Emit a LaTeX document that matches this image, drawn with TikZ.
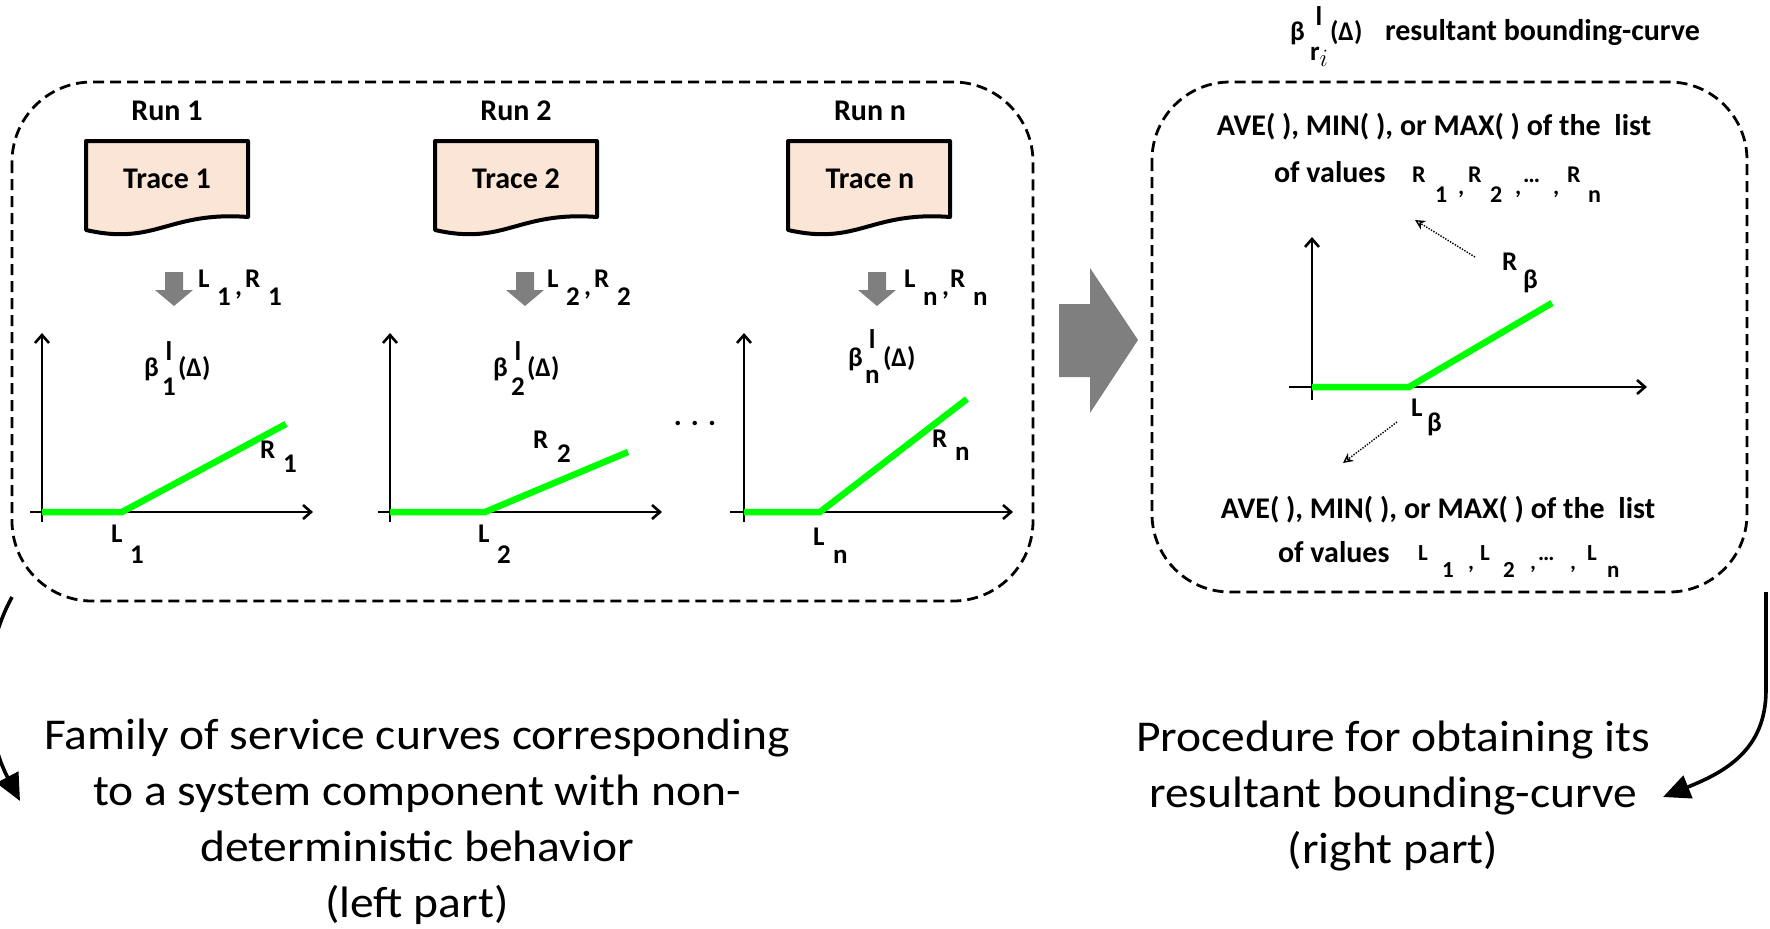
\documentclass[tikz,border=0pt]{standalone}
\usepackage{fontspec}
\setmainfont{Carlito}
\newfontfamily\capfont{Carlito}[FakeStretch=1.08]
\usetikzlibrary{arrows.meta}
\definecolor{tracefill}{HTML}{FBE5D6}
\definecolor{blockgray}{HTML}{7F7F7F}
\definecolor{curvegreen}{HTML}{00FF00}
% a piece of fixed width, a lowered piece of fixed width, a stacked super/subscript pair
\newcommand\pcx[2]{\makebox[#1pt][l]{#2}}
\newcommand\lwx[3]{\raisebox{-#2pt}{\makebox[#1pt][l]{#3}}}
\newcommand\stkx[4]{\ooalign{\hfil\raisebox{#1pt}{#3}\hfil\cr\hfil\raisebox{-#2pt}{#4}\hfil\cr}}
\begin{document}
\begin{tikzpicture}[x=1pt,y=-1pt,
  frame/.style={line width=2.8pt, dash pattern=on 11pt off 6pt},
  tracedoc/.style={draw=black, line width=4pt, fill=tracefill, line join=round},
  axis/.style={line width=2.6pt, -{Straight Barb[length=8pt,width=14pt]}},
  greenline/.style={draw=curvegreen, line width=6.5pt},
  txt/.style={inner sep=0pt, outer sep=0pt},
  head/.style={txt, font=\fontsize{30}{30}\selectfont\bfseries, anchor=base},
  note/.style={txt, font=\fontsize{30}{30}\selectfont\bfseries},
  lbl/.style={txt, font=\fontsize{27}{27}\selectfont\bfseries, anchor=base west},
  lst/.style={txt, font=\fontsize{24}{24}\selectfont\bfseries, anchor=base west},
  caption/.style={txt, font=\fontsize{44}{56}\capfont, align=center, anchor=base},
  hint/.style={line width=1.4pt, dash pattern=on 1.4pt off 1.4pt, -{Stealth[open,length=10pt,width=10pt]}},
  link/.style={line width=3.6pt, -{Triangle[length=27pt,width=24pt]}},
  docpage/.pic={\path[tracedoc] (0,0) -- (162,0) -- (162,76) .. controls (82,70) and (70,105) .. (0,89) -- cycle;},
  downblock/.pic={\fill[blockgray] (-9,0) -- (9,0) -- (9,18) -- (19,18) -- (0,34) -- (-19,18) -- (-9,18) -- cycle;}
]
\useasboundingbox (0,0) rectangle (1770,929);

% ---------- panels ----------
\draw[frame, rounded corners=80pt] (12,82) rectangle (1033,601);
\draw[frame, rounded corners=78pt] (1152,82) rectangle (1747,592);

% ---------- run 1 ----------
\node[head] (run1) at (167,120) {Run 1};
\pic at (86,141) {docpage};
\node[head] (trace1) at (167,188) {Trace 1};
\pic at (174,272) {downblock};
\node[lbl] (lr1) at (198,287) {\pcx{19}{L}\lwx{18}{18}{1}\lwx{10}{8}{,}\pcx{23}{R}\lwx{0}{18}{1}};
\node[lbl] (beta1) at (144,376) {\pcx{18}{β}\pcx{16}{\stkx{16}{19}{l}{1}}(Δ)};
\coordinate (o1) at (42,512);
\draw[axis] (42,522) -- (42,333);
\draw[axis] (30,512) -- (313,512);
\draw[greenline] (o1) -- (122,512) -- (286,424);
\node[lbl] (r1) at (260,458) {\pcx{23}{R}\lwx{0}{14}{1}};
\node[lbl] (l1) at (111,542) {\pcx{19}{L}\lwx{0}{21}{1}};

% ---------- run 2 ----------
\node[head] (run2) at (516,120) {Run 2};
\pic at (435,141) {docpage};
\node[head] (trace2) at (516,188) {Trace 2};
\pic at (525,272) {downblock};
\node[lbl] (lr2) at (547,287) {\pcx{19}{L}\lwx{18}{18}{2}\lwx{10}{8}{,}\pcx{23}{R}\lwx{0}{18}{2}};
\node[lbl] (beta2) at (493,376) {\pcx{18}{β}\pcx{16}{\stkx{16}{19}{l}{2}}(Δ)};
\coordinate (o2) at (390,512);
\draw[axis] (390,522) -- (390,333);
\draw[axis] (378,512) -- (662,512);
\draw[greenline] (o2) -- (485,512) -- (628,452);
\node[lbl] (r2) at (533,448) {\pcx{24}{R}\lwx{0}{14}{2}};
\node[lbl] (l2) at (478,542) {\pcx{19}{L}\lwx{0}{21}{2}};

\node[txt, font=\fontsize{30}{30}\selectfont\bfseries, anchor=base] (dots) at (695,425) {. . .};

% ---------- run n ----------
\node[head] (runn) at (870,120) {Run n};
\pic at (788,141) {docpage};
\node[head] (tracen) at (870,188) {Trace n};
\pic at (877,272) {downblock};
\node[lbl] (lrn) at (904,287) {\pcx{19}{L}\lwx{19}{18}{n}\lwx{8}{8}{,}\pcx{23}{R}\lwx{0}{18}{n}};
\node[lbl] (betan) at (848,366) {\pcx{17}{β}\pcx{18}{\stkx{18}{17}{l}{n}}(Δ)};
\coordinate (on) at (744,512);
\draw[axis] (744,522) -- (744,333);
\draw[axis] (730,512) -- (1013,512);
\draw[greenline] (on) -- (820,512) -- (967,399);
\node[lbl] (rn) at (932,447) {\pcx{23}{R}\lwx{0}{13}{n}};
\node[lbl] (ln) at (813,545) {\pcx{20}{L}\lwx{0}{18}{n}};

% ---------- transfer arrow ----------
\fill[blockgray] (1059,304) -- (1090,304) -- (1090,268) -- (1138,340) -- (1090,413) -- (1090,377) -- (1059,377) -- cycle;

% ---------- resultant curve ----------
\node[lbl] (betar) at (1290,40) {\pcx{20}{β}\pcx{20}{\stkx{15}{20}{l}{r\raisebox{-6pt}{\fontsize{32}{32}\selectfont$i$}}}(Δ)};
\node[note, anchor=base west] (title) at (1385,40) {resultant bounding-curve};

\node[note, anchor=base] (aveR) at (1434,135) {AVE( ), MIN( ), or MAX( ) of the\ \ list};
\node[note, anchor=base west] (ofR) at (1274,182) {of values};
\node[lst] (listR) at (1412,182) {\pcx{23}{R}\lwx{23}{20}{1}\lwx{10}{12}{,}\pcx{22}{R}\lwx{25}{20}{2}\lwx{8}{12}{,}\pcx{30}{…}\lwx{14}{12}{,}\pcx{21}{R}\lwx{0}{20}{n}};

\coordinate (or) at (1312,387);
\draw[axis] (1312,400) -- (1312,237);
\draw[axis] (1289,387) -- (1647,387);
\draw[greenline] (or) -- (1409,387) -- (1552,303);
\node[lbl] (rb) at (1502,270) {\pcx{21}{R}\lwx{0}{18}{β}};
\node[lbl] (lb) at (1411,416) {\pcx{16}{L}\lwx{0}{15}{β}};

\coordinate (hr0) at (1475,257);
\coordinate (hr1) at (1415,220);
\draw[hint] (hr0) -- (hr1);
\coordinate (hl0) at (1397,422);
\coordinate (hl1) at (1343,463);
\draw[hint] (hl0) -- (hl1);

\node[note, anchor=base] (aveL) at (1438,518) {AVE( ), MIN( ), or MAX( ) of the\ \ list};
\node[note, anchor=base west] (ofL) at (1278,562) {of values};
\node[lst, font=\fontsize{23}{23}\selectfont\bfseries] (listL) at (1418,560) {\pcx{24}{L}\lwx{26}{17}{1}\lwx{12}{9}{,}\pcx{23}{L}\lwx{27}{17}{2}\lwx{8}{9}{,}\pcx{32}{…}\lwx{17}{9}{,}\pcx{20}{L}\lwx{0}{17}{n}};

% ---------- captions (anchored at the baseline of their last line) ----------
\node[caption] (capL) at (417,917) {Family of service curves corresponding\\to a system component with non-\\deterministic behavior\\(left part)};
\node[caption] (capR) at (1393,863) {Procedure for obtaining its\\resultant bounding-curve\\(right part)};

\coordinate (la) at (12,597);
\coordinate (lb) at (20,801);
\draw[link] (la) .. controls (-25,665) and (-12,740) .. (lb);
\coordinate (ra) at (1766,592);
\coordinate (rbend) at (1766,690);
\coordinate (rtip) at (1663,797);
\draw[link] (ra) -- (rbend) .. controls (1766,750) and (1725,772) .. (rtip);
\end{tikzpicture}
\end{document}
